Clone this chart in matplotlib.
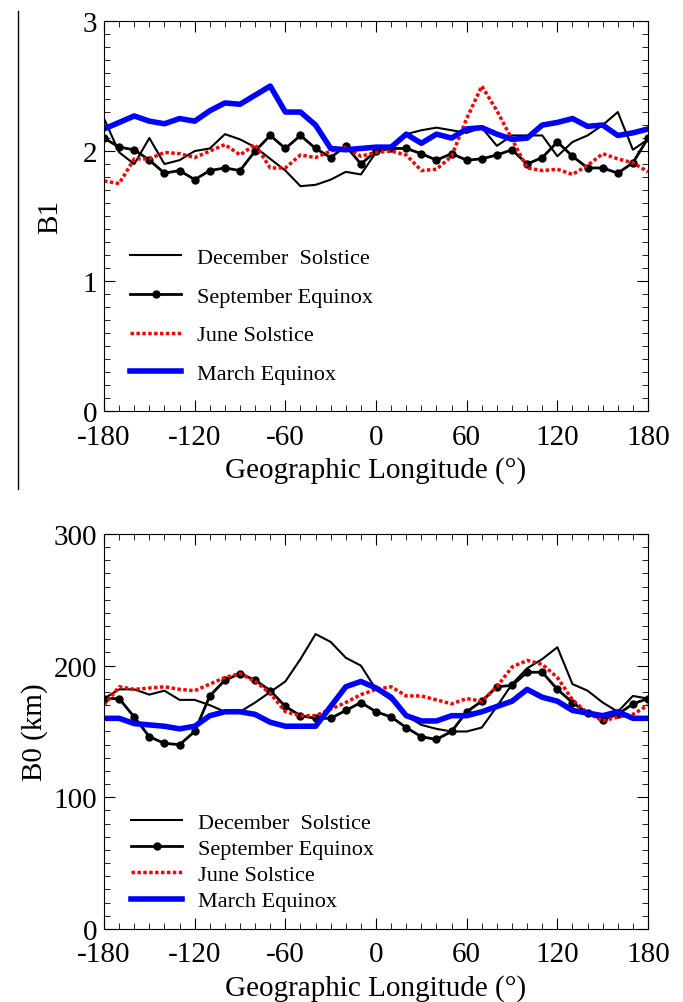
import matplotlib.pyplot as plt
from matplotlib.lines import Line2D
from matplotlib.ticker import MultipleLocator

plt.rcParams['font.family'] = ['Liberation Serif', 'DejaVu Serif']
plt.rcParams['axes.unicode_minus'] = False

lon = list(range(-180, 181, 10))

# B1 (top panel)
b1_dec = [2.25, 1.99, 1.90, 2.10, 1.90, 1.93, 2.00, 2.02, 2.13, 2.09, 2.03, 1.94, 1.85,
          1.73, 1.74, 1.78, 1.84, 1.82, 1.99, 2.03, 2.13, 2.16, 2.18, 2.16, 2.14,
          2.18, 2.04, 2.12, 2.12, 2.12, 1.96, 2.07, 2.12, 2.20, 2.30, 2.01, 2.09]
b1_sep = [2.10, 2.03, 2.01, 1.93, 1.83, 1.85, 1.78, 1.85, 1.87, 1.85, 2.00, 2.12, 2.02,
          2.12, 2.02, 1.95, 2.04, 1.90, 2.00, 2.02, 2.02, 1.98, 1.93, 1.98, 1.93,
          1.94, 1.97, 2.01, 1.90, 1.95, 2.07, 1.96, 1.87, 1.87, 1.83, 1.91, 2.10]
b1_jun = [1.77, 1.75, 1.94, 1.94, 1.99, 1.98, 1.95, 2.00, 2.05, 1.97, 2.05, 1.87, 1.87,
          1.97, 1.95, 2.00, 2.03, 1.96, 1.99, 2.00, 1.97, 1.85, 1.86, 1.96, 2.25,
          2.50, 2.31, 2.09, 1.87, 1.85, 1.86, 1.82, 1.89, 1.98, 1.94, 1.91, 1.84]
b1_mar = [2.17, 2.22, 2.27, 2.23, 2.21, 2.25, 2.23, 2.31, 2.37, 2.36, 2.43, 2.50, 2.30,
          2.30, 2.20, 2.02, 2.01, 2.02, 2.03, 2.03, 2.13, 2.06, 2.13, 2.10, 2.17,
          2.18, 2.13, 2.09, 2.10, 2.20, 2.22, 2.25, 2.19, 2.20, 2.12, 2.14, 2.17]

# B0 (bottom panel, km)
b0_dec = [175, 182, 182, 178, 181, 174, 174, 170, 165, 165, 172, 180, 188,
          205, 224, 218, 206, 200, 182, 174, 162, 155, 152, 150, 150,
          153, 169, 186, 198, 205, 214, 186, 181, 172, 165, 177, 175]
b0_sep = [175, 175, 161, 146, 141, 140, 150, 177, 189, 194, 189, 181, 169,
          162, 160, 160, 166, 172, 165, 161, 153, 146, 144, 150, 165,
          173, 184, 185, 195, 195, 182, 172, 164, 159, 163, 171, 175]
b0_jun = [170, 184, 182, 183, 184, 182, 181, 186, 191, 194, 188, 179, 165,
          162, 162, 167, 172, 178, 182, 184, 177, 177, 174, 171, 175,
          173, 184, 199, 204, 201, 191, 174, 164, 158, 161, 163, 170]
b0_mar = [160, 160, 156, 155, 154, 152, 154, 162, 165, 165, 163, 157, 154,
          154, 154, 169, 184, 188, 183, 176, 162, 158, 158, 162, 162,
          165, 169, 173, 182, 176, 173, 166, 164, 162, 165, 160, 160]

labels = ['December  Solstice', 'September Equinox', 'June Solstice', 'March Equinox']

fig = plt.figure(figsize=(6.83, 10.03), dpi=100)
ax1 = fig.add_axes([0.1523, 0.5892, 0.7965, 0.3888])
ax2 = fig.add_axes([0.1523, 0.0728, 0.7965, 0.3938])


def draw(ax, dec, sep, jun, mar):
    ax.plot(lon, dec, color='black', lw=1.5, label=labels[0])
    ax.plot(lon, sep, color='black', lw=2, marker='o', ms=5, label=labels[1])
    ax.plot(lon, jun, color='red', lw=2.5, ls=(0, (1, 0.7)), label=labels[2])
    ax.plot(lon, mar, color='blue', lw=4, label=labels[3])
    ax.set_xlim(-180, 180)
    ax.set_xticks(range(-180, 181, 60))
    ax.xaxis.set_minor_locator(MultipleLocator(10))
    ax.tick_params(which='both', direction='in', top=True, right=True,
                   labelsize=21, pad=5)
    ax.tick_params(axis='x', which='major', pad=9)
    ax.tick_params(which='major', length=8)
    ax.tick_params(which='minor', length=4)
    ax.set_xlabel('Geographic Longitude (°)', fontsize=21, labelpad=5)


draw(ax1, b1_dec, b1_sep, b1_jun, b1_mar)
ax1.set_ylim(0, 3)
ax1.set_yticks([0, 1, 2, 3])
ax1.yaxis.set_minor_locator(MultipleLocator(0.1))
ax1.set_ylabel('B1', fontsize=21, labelpad=14)
ax1.legend(loc='upper left', bbox_to_anchor=(0.048, 0.42), frameon=False,
           fontsize=16, handlelength=2.3, handletextpad=0.7,
           labelspacing=0.82, borderpad=0, borderaxespad=0)

draw(ax2, b0_dec, b0_sep, b0_jun, b0_mar)
ax2.set_ylim(0, 300)
ax2.set_yticks([0, 100, 200, 300])
ax2.yaxis.set_minor_locator(MultipleLocator(10))
ax2.set_ylabel('B0 (km)', fontsize=21, labelpad=4)
ax2.legend(loc='upper left', bbox_to_anchor=(0.05, 0.295), frameon=False,
           fontsize=16, handlelength=2.3, handletextpad=0.7,
           labelspacing=0.25, borderpad=0, borderaxespad=0)

# stray vertical rule at the left of the upper panel
fig.add_artist(Line2D([0.026, 0.026], [1 - 12 / 1003, 1 - 490 / 1003],
                      transform=fig.transFigure, color='black', lw=1))

fig.savefig('out.png', dpi=100)
